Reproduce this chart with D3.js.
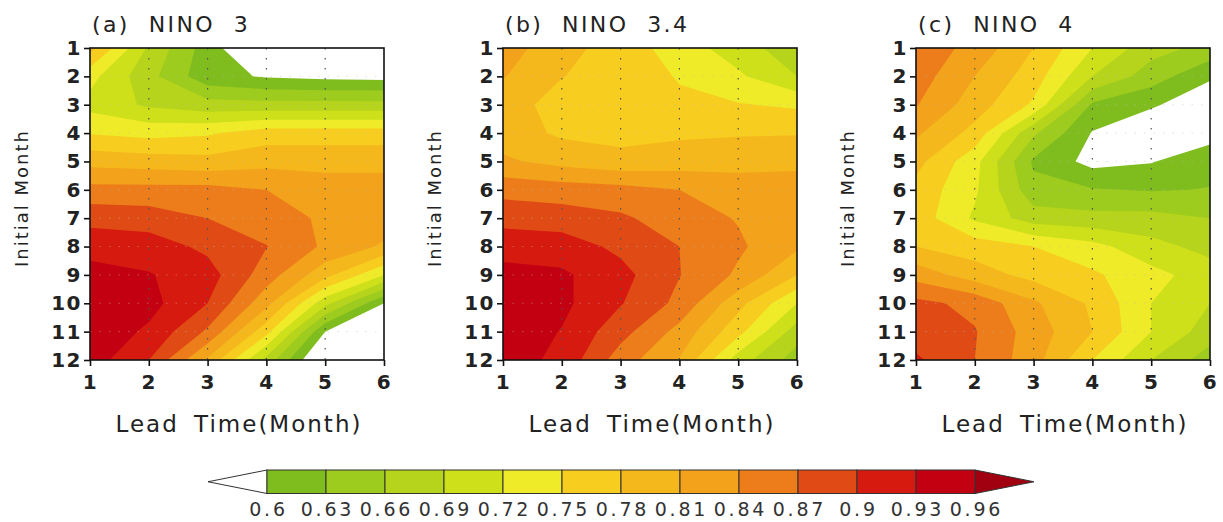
<!DOCTYPE html>
<html>
<head>
<meta charset="utf-8">
<title>NINO forecast skill</title>
<script src="https://cdn.jsdelivr.net/npm/d3@7"></script>
<style>
  html, body { margin: 0; padding: 0; background: #fff; }
  svg { display: block; font-family: 'DejaVu Sans', sans-serif; }
  text { white-space: pre; }
</style>
</head>
<body>
<div class="js-chart"></div>
<script>
'use strict';

/* ------------------------------------------------------------ *\
    Data: correlation skill, rows = initial month, cols = lead
\* ------------------------------------------------------------ */

var leadTimes = [1, 2, 3, 4, 5, 6];
var initialMonths = [1, 2, 3, 4, 5, 6, 7, 8, 9, 10, 11, 12];
var levels = [0.6, 0.63, 0.66, 0.69, 0.72, 0.75, 0.78, 0.81, 0.84, 0.87, 0.9, 0.93, 0.96];
var levelLabels = ['0.6', '0.63', '0.66', '0.69', '0.72', '0.75', '0.78', '0.81', '0.84', '0.87', '0.9', '0.93', '0.96'];
var panelTitles = ['(a)  NINO  3', '(b)  NINO  3.4', '(c)  NINO  4'];

var nino3Acc = [
  [0.79, 0.685, 0.615, 0.555, 0.55, 0.55],
  [0.73, 0.67, 0.61, 0.597, 0.592, 0.59],
  [0.71, 0.685, 0.672, 0.67, 0.67, 0.67],
  [0.748, 0.74, 0.746, 0.765, 0.765, 0.765],
  [0.80, 0.795, 0.79, 0.80, 0.80, 0.80],
  [0.85, 0.85, 0.85, 0.84, 0.825, 0.825],
  [0.89, 0.885, 0.87, 0.855, 0.835, 0.83],
  [0.92, 0.915, 0.893, 0.871, 0.835, 0.805],
  [0.94, 0.932, 0.913, 0.855, 0.79, 0.72],
  [0.95, 0.94, 0.90, 0.82, 0.70, 0.60],
  [0.95, 0.925, 0.865, 0.76, 0.60, 0.55],
  [0.945, 0.90, 0.805, 0.68, 0.55, 0.52]
];

var nino34Acc = [
  [0.825, 0.79, 0.767, 0.735, 0.705, 0.67],
  [0.812, 0.781, 0.765, 0.748, 0.725, 0.69],
  [0.795, 0.767, 0.76, 0.755, 0.752, 0.745],
  [0.795, 0.775, 0.77, 0.775, 0.777, 0.778],
  [0.815, 0.80, 0.79, 0.795, 0.80, 0.805],
  [0.86, 0.855, 0.85, 0.84, 0.825, 0.82],
  [0.89, 0.885, 0.875, 0.855, 0.838, 0.82],
  [0.918, 0.915, 0.893, 0.87, 0.845, 0.815],
  [0.94, 0.935, 0.91, 0.871, 0.835, 0.78],
  [0.95, 0.937, 0.902, 0.862, 0.79, 0.72],
  [0.95, 0.9285, 0.881, 0.83, 0.76, 0.675],
  [0.945, 0.922, 0.855, 0.808, 0.705, 0.645]
];

var nino4Acc = [
  [0.86, 0.83, 0.78, 0.72, 0.672, 0.65],
  [0.855, 0.81, 0.765, 0.69, 0.645, 0.605],
  [0.842, 0.795, 0.745, 0.625, 0.605, 0.575],
  [0.815, 0.77, 0.665, 0.598, 0.57, 0.585],
  [0.79, 0.73, 0.625, 0.59, 0.598, 0.622],
  [0.77, 0.725, 0.64, 0.632, 0.628, 0.631],
  [0.767, 0.715, 0.675, 0.67, 0.67, 0.66],
  [0.78, 0.765, 0.75, 0.73, 0.70, 0.68],
  [0.828, 0.795, 0.77, 0.755, 0.73, 0.705],
  [0.878, 0.862, 0.815, 0.775, 0.72, 0.69],
  [0.885, 0.872, 0.826, 0.78, 0.72, 0.675],
  [0.905, 0.87, 0.822, 0.75, 0.69, 0.645]
];

/* ------------------------------------------------------------ *\
    Shading colours, one per band starting at each level
\* ------------------------------------------------------------ */

var levelColours = [
  '#7fbd1f', '#9dcb1e', '#b6d41b', '#cde01a', '#f0eb29', '#f7cd1f',
  '#f5b81c', '#f2a21b', '#ec7d1a', '#e04b15', '#d71a10', '#c20012', '#a0000f'
];

/* ------------------------------------------------------------ *\
    Layout
\* ------------------------------------------------------------ */

var width = 1223;
var height = 522;
var panelLefts = [90, 503, 916];
var panelTop = 48;
var panelWidth = 294;
var panelHeight = 312;
var textColour = '#222';

var svg = d3.select('.js-chart')
  .append('svg')
  .attr('width', width)
  .attr('height', height);

[nino3Acc, nino34Acc, nino4Acc].forEach(function(grid, p) {
  drawPanel(grid, p);
});

drawColourBar();

/* ------------------------------------------------------------ *\
    One shaded contour panel
\* ------------------------------------------------------------ */

function drawPanel(grid, p) {
  var x = d3.scaleLinear().domain([1, 6]).range([0, panelWidth]);
  var y = d3.scaleLinear().domain([1, 12]).range([0, panelHeight]);

  var g = svg.append('g')
    .attr('transform', 'translate(' + panelLefts[p] + ',' + panelTop + ')');

  var clipId = 'panel-clip-' + p;
  g.append('clipPath')
    .attr('id', clipId)
    .append('rect')
    .attr('width', panelWidth)
    .attr('height', panelHeight);

  // grid cell (i, j) sits at contour coordinate (i + 0.5, j + 0.5)
  var contours = d3.contours()
    .size([leadTimes.length, initialMonths.length])
    .thresholds(levels)(d3.merge(grid));

  var toPanel = d3.geoTransform({
    point: function(px, py) {
      this.stream.point(x(px + 0.5), y(py + 0.5));
    }
  });

  g.append('g')
    .attr('clip-path', 'url(#' + clipId + ')')
    .selectAll('path')
    .data(contours)
    .join('path')
    .attr('d', d3.geoPath(toPanel))
    .attr('fill', function(d, i) { return levelColours[i]; });

  // faint month lines and dotted lead lines
  g.append('g')
    .selectAll('line')
    .data(initialMonths.slice(1, -1))
    .join('line')
    .attr('x1', 0)
    .attr('x2', panelWidth)
    .attr('y1', function(d) { return y(d); })
    .attr('y2', function(d) { return y(d); })
    .attr('stroke', '#bbb')
    .attr('stroke-opacity', 0.45)
    .attr('stroke-dasharray', '1.5,8');

  g.append('g')
    .selectAll('line')
    .data(leadTimes.slice(1, -1))
    .join('line')
    .attr('x1', function(d) { return x(d); })
    .attr('x2', function(d) { return x(d); })
    .attr('y1', 0)
    .attr('y2', panelHeight)
    .attr('stroke', '#555')
    .attr('stroke-width', 1.2)
    .attr('stroke-dasharray', '1.5,8.5');

  g.append('rect')
    .attr('width', panelWidth)
    .attr('height', panelHeight)
    .attr('fill', 'none')
    .attr('stroke', '#111')
    .attr('stroke-width', 1.6);

  // axes
  var yAxis = g.append('g')
    .call(d3.axisLeft(y).tickValues(initialMonths).tickFormat(d3.format('d'))
      .tickSize(6).tickSizeOuter(0).tickPadding(2));

  var xAxis = g.append('g')
    .attr('transform', 'translate(0,' + panelHeight + ')')
    .call(d3.axisBottom(x).tickValues(leadTimes).tickFormat(d3.format('d'))
      .tickSize(6).tickSizeOuter(0).tickPadding(9));

  [yAxis, xAxis].forEach(function(axis) {
    axis.attr('font-family', null).attr('font-size', null);
    axis.select('.domain').remove();
    axis.selectAll('.tick line')
      .attr('stroke', '#111')
      .attr('stroke-width', 1.6);
    axis.selectAll('.tick text')
      .attr('fill', textColour)
      .attr('font-size', 20)
      .attr('font-weight', 'bold')
      .style('letter-spacing', '1.5px');
  });

  // labels
  g.append('text')
    .attr('x', 2)
    .attr('y', 32 - panelTop)
    .attr('fill', textColour)
    .attr('font-size', 22)
    .style('letter-spacing', '2.4px')
    .text(panelTitles[p]);

  g.append('text')
    .attr('x', panelWidth / 2 + 2)
    .attr('y', 432 - panelTop)
    .attr('text-anchor', 'middle')
    .attr('fill', textColour)
    .attr('font-size', 23)
    .style('letter-spacing', '2px')
    .style('word-spacing', '6px')
    .text('Lead Time(Month)');

  g.append('text')
    .attr('transform', 'translate(-62,' + (198 - panelTop) + ') rotate(-90)')
    .attr('text-anchor', 'middle')
    .attr('fill', textColour)
    .attr('font-size', 18)
    .style('letter-spacing', '2px')
    .text('Initial Month');
}

/* ------------------------------------------------------------ *\
    Colour bar with open-ended triangles
\* ------------------------------------------------------------ */

function drawColourBar() {
  var barTop = 470;
  var barHeight = 23.5;
  var c = d3.scaleLinear()
    .domain([levels[0], levels[levels.length - 1]])
    .range([267, 975]);
  var step = c(levels[1]) - c(levels[0]);
  var mid = barTop + barHeight / 2;

  var bar = svg.append('g');

  bar.append('path')
    .attr('d', 'M' + c(levels[0]) + ',' + barTop +
      'L' + (c(levels[0]) - step) + ',' + mid +
      'L' + c(levels[0]) + ',' + (barTop + barHeight) + 'Z')
    .attr('fill', '#fff')
    .attr('stroke', '#333');

  var last = levels[levels.length - 1];
  bar.append('path')
    .attr('d', 'M' + c(last) + ',' + barTop +
      'L' + (c(last) + step) + ',' + mid +
      'L' + c(last) + ',' + (barTop + barHeight) + 'Z')
    .attr('fill', levelColours[levelColours.length - 1])
    .attr('stroke', '#333');

  bar.selectAll('rect')
    .data(levels.slice(0, -1))
    .join('rect')
    .attr('x', function(d) { return c(d); })
    .attr('y', barTop)
    .attr('width', step)
    .attr('height', barHeight)
    .attr('fill', function(d, i) { return levelColours[i]; })
    .attr('stroke', '#333');

  bar.selectAll('text')
    .data(levels)
    .join('text')
    .attr('x', function(d) { return c(d) + 1.5; })
    .attr('y', 516)
    .attr('text-anchor', 'middle')
    .attr('fill', '#333')
    .attr('font-size', 19)
    .style('letter-spacing', '2.8px')
    .text(function(d, i) { return levelLabels[i]; });
}
</script>
</body>
</html>
